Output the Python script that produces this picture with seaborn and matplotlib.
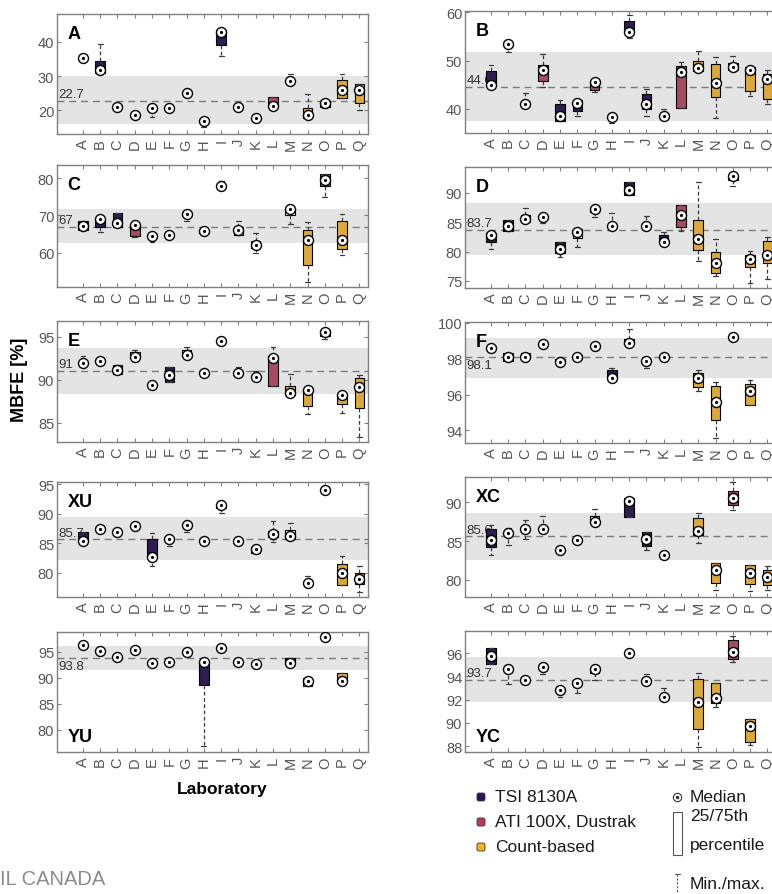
import numpy as np
import pandas as pd
import matplotlib
matplotlib.use("Agg")
import matplotlib.pyplot as plt
from matplotlib.patches import FancyBboxPatch, Rectangle
import seaborn as sns

nan = np.nan

LABS = list("ABCDEFGHIJKLMNOPQ")
GROUPS = ["TSI 8130A", "ATI 100X, Dustrak", "Count-based", "Other"]
PALETTE = {"TSI 8130A": "#2b1459", "ATI 100X, Dustrak": "#b93a5c",
           "Count-based": "#f5b31f", "Other": "white"}
# one character per laboratory: T/A/C instrument class, o = other, - = no data
CODE = {"T": "TSI 8130A", "A": "ATI 100X, Dustrak", "C": "Count-based", "o": "Other", "-": None}

# ---- A ----
A_grp = "oTooooooTooAoCoCC"
A_lo  = [35.2, 30.5, 20.5, 18.5, 17.9, 20.5, 25.0, 15.0, 36.0, 21.0, 17.6, 21.2, 28.3, 17.6, 20.5, 23.5, 20.0]
A_q1  = [35.2, 30.8, 20.5, 18.5, 20.2, 20.5, 25.0, 16.5, 39.2, 21.0, 17.6, 21.2, 28.3, 17.6, 20.8, 23.7, 22.0]
A_med = [35.2, 31.7, 21.0, 18.5, 20.5, 20.5, 25.0, 16.8, 42.8, 21.0, 17.6, 21.3, 28.5, 18.5, 22.0, 25.8, 25.8]
A_q3  = [35.2, 34.4, 21.5, 18.5, 20.8, 20.5, 25.0, 17.2, 43.6, 21.0, 17.6, 24.0, 28.8, 20.6, 22.7, 28.7, 27.6]
A_hi  = [35.2, 39.5, 21.5, 18.5, 20.8, 20.5, 25.0, 17.2, 43.6, 21.0, 17.6, 24.0, 30.5, 24.7, 22.7, 30.5, 27.6]

# ---- B ----
B_grp = "TooATTAoTToACCoCC"
B_lo  = [44.5, 51.7, 41.1, 44.6, 37.4, 38.5, 43.5, 37.1, 54.6, 38.5, 38.5, 40.2, 47.9, 38.1, 48.0, 42.6, 41.1]
B_q1  = [44.9, 53.4, 41.1, 45.8, 37.4, 39.5, 43.9, 38.3, 55.9, 39.9, 38.5, 40.2, 47.9, 42.5, 48.0, 43.7, 42.0]
B_med = [44.9, 53.4, 41.1, 48.0, 38.6, 41.3, 45.6, 38.3, 55.9, 41.1, 38.5, 47.7, 48.4, 45.4, 48.6, 48.0, 46.3]
B_q3  = [47.9, 53.4, 41.5, 49.1, 41.1, 41.8, 45.6, 38.3, 58.3, 43.0, 38.5, 48.9, 50.0, 49.3, 49.6, 48.6, 47.2]
B_hi  = [49.1, 53.4, 43.2, 51.4, 41.8, 41.8, 45.6, 38.3, 59.5, 44.2, 39.9, 49.8, 52.1, 50.7, 51.0, 48.6, 48.1]

# ---- C ----
C_grp = "TTTAooooooo-oCAC-"
C_lo  = [65.7, 65.5, 66.8, 64.2, 62.8, 64.8, 68.6, 65.4, 77.8, 64.8, 59.9, nan, 67.7, 52.2, 74.8, 59.5, nan]
C_q1  = [66.0, 66.8, 66.8, 64.6, 64.4, 64.8, 69.8, 65.4, 77.8, 64.8, 61.2, nan, 70.0, 56.6, 78.0, 61.1, nan]
C_med = [67.1, 69.1, 68.0, 67.3, 64.4, 64.8, 70.4, 65.7, 77.8, 66.2, 62.1, nan, 71.6, 63.3, 79.6, 63.5, nan]
C_q3  = [68.6, 69.1, 70.7, 67.3, 64.4, 64.8, 70.9, 66.2, 77.8, 66.8, 63.0, nan, 72.0, 66.0, 81.1, 68.6, nan]
C_hi  = [68.6, 69.1, 70.7, 67.3, 64.4, 64.8, 70.9, 66.2, 79.3, 68.6, 65.3, nan, 72.0, 68.2, 81.1, 70.4, nan]

# ---- D ----
D_grp = "TTooToooToTACCoCC"
D_lo  = [80.4, 83.5, 85.0, 84.9, 79.1, 80.8, 85.9, 84.4, 89.7, 84.4, 81.6, 83.5, 78.4, 75.9, 91.2, 74.7, 75.3]
D_q1  = [81.6, 83.5, 85.0, 85.9, 79.7, 82.3, 86.8, 84.4, 89.7, 84.4, 81.6, 84.2, 80.2, 76.3, 92.2, 77.4, 78.0]
D_med = [82.8, 84.3, 85.5, 85.9, 80.5, 83.4, 87.2, 84.4, 90.5, 84.4, 81.6, 86.2, 82.2, 78.1, 92.9, 78.7, 79.4]
D_q3  = [83.2, 85.3, 86.3, 85.9, 81.6, 83.8, 87.2, 84.4, 91.9, 84.4, 82.8, 87.9, 85.3, 79.9, 92.9, 79.4, 81.8]
D_hi  = [83.2, 85.3, 87.4, 85.9, 81.6, 83.8, 88.0, 86.6, 91.9, 86.1, 83.4, 87.9, 91.8, 82.2, 92.9, 80.1, 82.4]

# ---- E ----
E_grp = "ooTooToooooACCoCC"
E_lo  = [91.9, 92.2, 90.7, 92.6, 89.4, 89.8, 92.9, 90.8, 94.5, 90.8, 90.3, 89.3, 88.2, 86.0, 94.7, 86.1, 83.4]
E_q1  = [91.9, 92.2, 90.7, 92.6, 89.4, 89.8, 92.9, 90.8, 94.5, 90.8, 90.3, 89.3, 88.2, 87.0, 95.1, 87.2, 86.7]
E_med = [91.9, 92.2, 91.1, 92.6, 89.4, 90.6, 92.9, 90.8, 94.5, 90.8, 90.3, 92.5, 88.5, 88.8, 95.5, 88.2, 89.2]
E_q3  = [91.9, 92.2, 91.7, 93.2, 89.4, 91.5, 93.4, 90.8, 94.5, 90.8, 90.3, 92.7, 89.3, 88.8, 95.8, 88.4, 90.2]
E_hi  = [92.7, 92.2, 91.7, 93.5, 89.4, 91.5, 93.8, 90.8, 94.5, 91.5, 91.0, 93.8, 90.7, 88.8, 95.8, 88.4, 90.6]

# ---- F ----
F_grp = "oooooooTToo-CCoC-"
F_lo  = [98.6, 97.9, 98.1, 98.8, 97.8, 98.0, 98.7, 96.95, 98.8, 97.5, 98.1, nan, 96.2, 93.6, 99.2, 95.4, nan]
F_q1  = [98.6, 97.9, 98.1, 98.8, 97.8, 98.0, 98.7, 96.95, 98.8, 97.9, 98.1, nan, 96.4, 94.6, 99.2, 95.4, nan]
F_med = [98.6, 98.1, 98.1, 98.8, 97.8, 98.1, 98.7, 96.95, 98.9, 97.9, 98.1, nan, 96.9, 95.6, 99.2, 96.2, nan]
F_q3  = [98.6, 98.3, 98.3, 98.8, 98.0, 98.2, 98.7, 97.4, 99.1, 97.9, 98.1, nan, 97.2, 96.5, 99.2, 96.6, nan]
F_hi  = [98.6, 98.3, 98.3, 98.8, 98.1, 98.2, 98.7, 97.5, 99.65, 97.9, 98.1, nan, 97.4, 96.7, 99.2, 96.8, nan]

# ---- XU ----
XU_grp = "ToooToooooooooooCC"[:5] + "oooooooooooCC"[1:]
XU_lo  = [85.45, 87.4, 87.0, 87.9, 81.2, 84.5, 86.9, 85.45, 90.2, 85.45, 83.4, 85.3, 85.7, 78.3, 94.0, 78.0, 76.7]
XU_q1  = [85.45, 87.4, 87.0, 87.9, 82.6, 85.7, 88.1, 85.45, 91.0, 85.45, 83.4, 86.0, 85.7, 78.3, 94.0, 78.0, 78.1]
XU_med = [85.45, 87.4, 87.0, 87.9, 82.6, 85.7, 88.1, 85.45, 91.5, 85.45, 84.0, 86.6, 86.2, 78.3, 94.0, 80.0, 79.0]
XU_q3  = [86.85, 87.4, 87.0, 87.9, 85.8, 85.7, 88.1, 85.45, 91.5, 85.45, 84.3, 87.1, 87.2, 78.3, 94.0, 81.5, 79.9]
XU_hi  = [86.85, 87.4, 87.0, 87.9, 86.7, 85.7, 88.1, 85.45, 91.5, 85.45, 84.3, 88.8, 88.4, 79.5, 94.0, 82.8, 81.2]

# ---- XC ----
XC_grp = "Toooooo-TTo-CCACC"
XC_lo  = [83.2, 84.5, 85.3, 86.6, 83.9, 85.1, 87.5, nan, 88.1, 83.9, 83.2, nan, 84.7, 78.6, 89.0, 78.5, 78.6]
XC_q1  = [84.2, 86.0, 86.6, 86.6, 83.9, 85.1, 87.5, nan, 88.1, 84.4, 83.2, nan, 85.8, 79.6, 89.7, 79.4, 79.3]
XC_med = [85.1, 86.0, 86.6, 86.6, 83.9, 85.1, 87.5, nan, 90.2, 85.3, 83.2, nan, 86.3, 81.3, 90.6, 80.8, 80.3]
XC_q3  = [86.5, 86.0, 86.6, 86.6, 83.9, 85.1, 88.3, nan, 90.6, 86.2, 83.2, nan, 88.0, 82.2, 91.5, 81.9, 81.3]
XC_hi  = [87.1, 86.7, 87.7, 88.2, 83.9, 85.1, 89.1, nan, 90.6, 86.2, 83.2, nan, 88.6, 82.2, 92.7, 81.9, 81.8]

# ---- YU ----
YU_grp = "oooooooTooo-TooC-"
YU_lo  = [96.3, 95.1, 94.0, 95.4, 92.8, 93.1, 94.9, 76.9, 95.8, 93.0, 92.6, nan, 92.8, 88.4, 97.9, 89.3, nan]
YU_q1  = [96.3, 95.1, 94.0, 95.4, 92.8, 93.1, 94.9, 88.6, 95.8, 93.0, 92.6, nan, 92.8, 88.4, 97.9, 89.3, nan]
YU_med = [96.3, 95.1, 94.0, 95.4, 92.8, 93.1, 94.9, 93.0, 95.8, 93.0, 92.6, nan, 92.8, 89.3, 97.9, 89.3, nan]
YU_q3  = [96.3, 95.1, 94.0, 95.4, 92.8, 93.1, 94.9, 93.0, 95.8, 93.0, 92.6, nan, 93.7, 90.0, 97.9, 91.0, nan]
YU_hi  = [96.3, 95.1, 94.0, 95.4, 92.8, 93.1, 94.9, 93.0, 95.8, 93.0, 92.6, nan, 93.7, 90.0, 97.9, 91.0, nan]

# ---- YC ----
YC_grp = "Toooooo-ooo-CCAC-"
YC_lo  = [95.1, 93.35, 93.7, 94.2, 92.2, 92.6, 93.7, nan, 96.0, 93.6, 92.2, nan, 87.9, 91.4, 95.2, 88.1, nan]
YC_q1  = [95.1, 94.6, 93.7, 94.8, 92.8, 93.4, 94.3, nan, 96.0, 93.6, 92.2, nan, 89.5, 91.7, 95.5, 88.35, nan]
YC_med = [95.75, 94.6, 93.7, 94.8, 92.8, 93.4, 94.6, nan, 96.0, 93.6, 92.2, nan, 91.8, 92.1, 96.1, 89.7, nan]
YC_q3  = [96.4, 94.6, 93.7, 94.8, 92.8, 93.4, 94.6, nan, 96.0, 93.6, 92.2, nan, 93.8, 93.4, 97.1, 90.3, nan]
YC_hi  = [96.4, 94.6, 93.7, 94.8, 92.8, 93.4, 94.6, nan, 96.2, 94.2, 93.0, nan, 94.3, 93.4, 97.5, 90.3, nan]

PANELS   = ["A", "B", "C", "D", "E", "F", "XU", "XC", "YU", "YC"]
MEANS    = [22.7, 44.6, 67.0, 83.7, 91.0, 98.1, 85.7, 85.6, 93.8, 93.7]
BAND_LO  = [15.9, 37.4, 62.6, 79.4, 88.4, 96.9, 82.2, 82.5, 91.5, 91.8]
BAND_HI  = [30.0, 51.9, 71.7, 88.2, 93.65, 99.15, 89.55, 88.65, 96.1, 95.7]
YTICKS   = [[20, 30, 40], [40, 50, 60], [60, 70, 80], [75, 80, 85, 90], [85, 90, 95],
            [94, 96, 98, 100], [80, 85, 90, 95], [80, 85, 90], [80, 85, 90, 95], [88, 90, 92, 94, 96]]
YLIMS    = [(13.0, 48.2), (35.0, 60.3), (50.8, 83.5), (73.8, 94.4), (82.8, 96.8),
            (93.3, 100.05), (75.9, 95.4), (77.75, 93.3), (75.7, 98.8), (87.5, 97.9)]

DATA = {p: [globals()[f"{p}_{k}"] for k in ("grp", "lo", "q1", "med", "q3", "hi")] for p in PANELS}

# ---------------- layout (pixel boxes: left, top, width, bottom) ----------------
W, H = 772, 895
BOXES = {
    "A": (57, 15, 311, 135), "B": (465, 12, 311, 134),
    "C": (57, 166, 311, 288), "D": (465, 168, 311, 289),
    "E": (57, 322, 311, 443), "F": (465, 323, 311, 444),
    "XU": (57, 483, 311, 598), "XC": (465, 478, 311, 598),
    "YU": (57, 633, 311, 753), "YC": (465, 632, 311, 753),
}
LABEL_BELOW = {"F", "YU"}
TAG_BOTTOM = {"YU", "YC"}

sns.set_style("ticks")
plt.rcParams["font.family"] = ["Liberation Sans", "DejaVu Sans"]

FRAME = "#808080"
TICKTXT = "#555555"

fig = plt.figure(figsize=(W / 100, H / 100), dpi=100)


def long_frame(grp, lo, q1, med, q3, hi):
    rows = []
    for lab, g, *vals in zip(LABS, grp, lo, q1, med, q3, hi):
        if CODE[g] is None:
            continue
        for v in vals:
            rows.append((lab, CODE[g], v))
    return pd.DataFrame(rows, columns=["lab", "group", "value"])


for i, p in enumerate(PANELS):
    x0, top, w, bot = BOXES[p]
    ax = fig.add_axes([x0 / W, 1 - bot / H, w / W, (bot - top) / H])
    grp, lo, q1, med, q3, hi = DATA[p]

    ax.axhspan(BAND_LO[i], BAND_HI[i], color="#e4e4e4", lw=0, zorder=0.5)
    ax.axhline(MEANS[i], color="#7a7a7a", lw=1.0, ls=(0, (5, 3.5)), zorder=0.8)

    df = long_frame(grp, lo, q1, med, q3, hi)
    sns.boxplot(data=df, x="lab", y="value", hue="group", order=LABS, hue_order=GROUPS,
                palette=PALETTE, dodge=False, whis=(0, 100), width=0.55,
                linecolor="black", linewidth=0.8, showfliers=False, legend=False, ax=ax,
                whiskerprops=dict(color="#3a3a3a", linestyle=(0, (3, 2)), linewidth=0.9),
                capprops=dict(color="#3a3a3a", linewidth=0.9),
                medianprops=dict(visible=False))

    mdf = pd.DataFrame({"lab": LABS, "med": med}).dropna()
    sns.stripplot(data=mdf, x="lab", y="med", order=LABS, jitter=False, color="white",
                  edgecolor="black", linewidth=1.0, size=7.2, ax=ax, zorder=5)
    sns.stripplot(data=mdf, x="lab", y="med", order=LABS, jitter=False, color="black",
                  linewidth=0, size=2.3, ax=ax, zorder=6)

    ax.set_xlim(-1.5, 16.5)
    ax.set_ylim(*YLIMS[i])
    ax.set_yticks(YTICKS[i])
    ax.set_xticks(range(len(LABS)))
    ax.set_xticklabels(LABS, rotation=90)
    ax.set_xlabel("")
    ax.set_ylabel("")
    ax.tick_params(direction="in", top=True, right=True, length=3, width=0.8,
                   color=FRAME, labelcolor=TICKTXT, labelsize=10.5)
    ax.tick_params(axis="x", pad=3)
    ax.tick_params(axis="y", pad=2)
    for s in ax.spines.values():
        s.set_color(FRAME)
        s.set_linewidth(1.0)
        s.set_visible(True)

    # reference value printed at the left end of the dashed line
    if p in LABEL_BELOW:
        ax.annotate(f"{MEANS[i]:g}", xy=(-1.42, MEANS[i]), xytext=(0, -1.5),
                    textcoords="offset points", ha="left", va="top",
                    fontsize=9.5, color="#333333", zorder=1.6)
    else:
        ax.annotate(f"{MEANS[i]:g}", xy=(-1.42, MEANS[i]), xytext=(0, 0.5),
                    textcoords="offset points", ha="left", va="bottom",
                    fontsize=9.5, color="#333333", zorder=1.6)

    # panel tag
    if p in TAG_BOTTOM:
        ax.annotate(p, xy=(0, 0), xycoords="axes fraction", xytext=(7.5, 8),
                    textcoords="offset points", ha="left", va="baseline",
                    fontsize=13, fontweight="bold", color="black")
    else:
        ax.annotate(p, xy=(0, 1), xycoords="axes fraction", xytext=(7.5, -8),
                    textcoords="offset points", ha="left", va="top",
                    fontsize=13, fontweight="bold", color="black")

# axis titles
fig.text(20 / W, 1 - 380 / H, "MBFE [%]", rotation=90, ha="center", va="center",
         fontsize=13, fontweight="bold", color="black")
fig.text(222 / W, 1 - 790 / H, "Laboratory", ha="center", va="center",
         fontsize=12.5, fontweight="bold", color="black")
fig.text(0, 1 - 880 / H, "IL CANADA", ha="left", va="center", fontsize=14.5, color="#8c8c8c")

# key, drawn on an overlay in pixel units
lax = fig.add_axes([0, 0, 1, 1])
lax.set_xlim(0, W)
lax.set_ylim(H, 0)
lax.axis("off")
for grp_name, yy in zip(GROUPS[:3], [798, 823, 848]):
    lax.add_patch(FancyBboxPatch((477, yy - 4), 8, 8, boxstyle="round,pad=0,rounding_size=2",
                                 fc=PALETTE[grp_name], ec="#333333", lw=0.6))
    lax.text(495, yy, grp_name, ha="left", va="center", fontsize=12.5, color="#1a1a1a")

lax.plot([677], [798], "o", mfc="white", mec="#333333", ms=6, mew=0.8)
lax.plot([677], [798], "o", color="#333333", ms=1.5)
lax.text(690, 798, "Median", ha="left", va="center", fontsize=12.5, color="#1a1a1a")
lax.add_patch(Rectangle((673, 813), 9, 43, fc="white", ec="#555555", lw=0.8))
lax.text(690, 817, "25/75th", ha="left", va="center", fontsize=12.5, color="#1a1a1a")
lax.text(690, 846, "percentile", ha="left", va="center", fontsize=12.5, color="#1a1a1a")
lax.plot([677, 677], [875, 895], color="#555555", lw=0.8, ls=(0, (2, 1.5)))
lax.plot([674.5, 679.5], [875, 875], color="#555555", lw=0.8)
lax.text(690, 885, "Min./max.", ha="left", va="center", fontsize=12.5, color="#1a1a1a")

fig.savefig("out.png", dpi=100)
